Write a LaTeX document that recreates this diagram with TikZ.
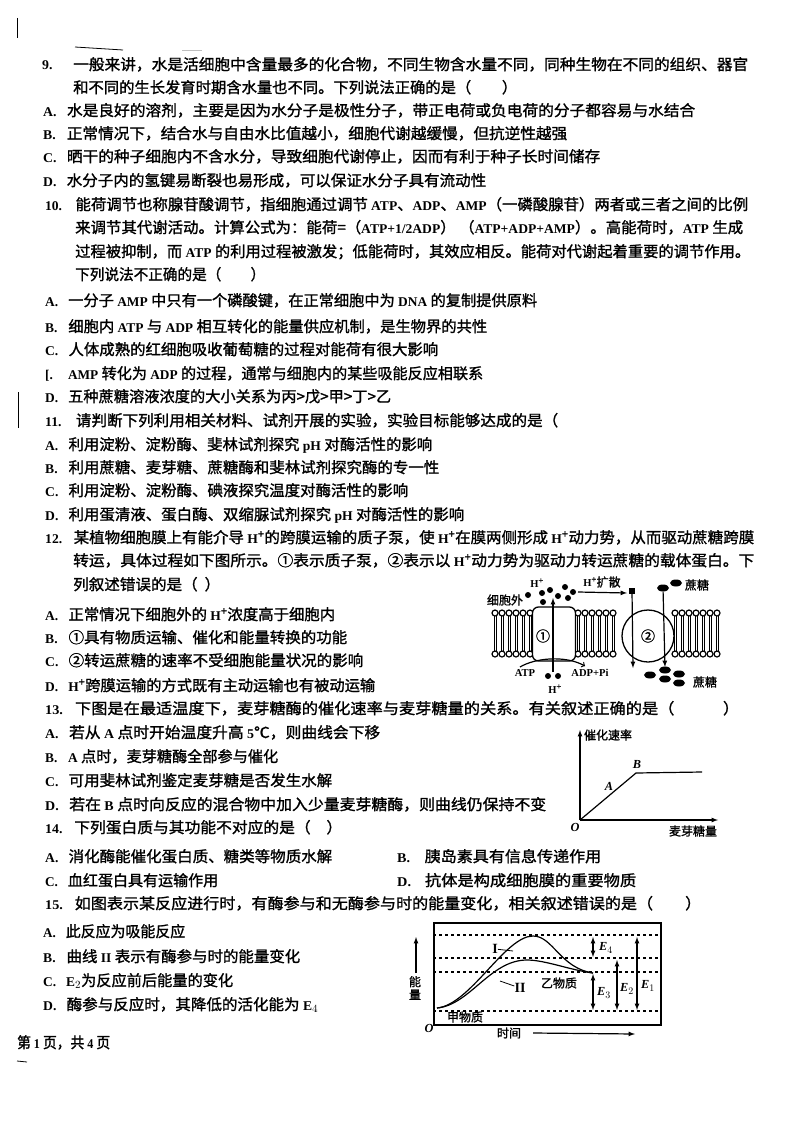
\documentclass[tikz,border=0pt]{standalone}
\usepackage{graphicx}
\usepackage{fontspec}
\setmainfont{Noto Sans CJK SC}[BoldFont={Noto Sans CJK SC},BoldFeatures={FakeBold=1.3}]
\newfontfamily\latinfont[Scale=0.88]{Liberation Serif}
\usetikzlibrary{arrows}
\usetikzlibrary{shapes.geometric}
\newcommand{\la}[1]{{\latinfont #1}}
\newcommand{\opt}[1]{\makebox[23pt][l]{\la{#1.}}}
\newcommand{\num}[1]{\makebox[30pt][l]{\la{#1.}}}
\newcommand{\Hp}{\la{H}\textsuperscript{+}}
\newcommand{\fit}[2]{\resizebox{#1pt}{\height}{#2}}
\tikzset{
  txt/.style={anchor=base west,inner sep=0pt,font=\fontsize{15.2}{17}\bfseries\selectfont},
  small/.style={inner sep=0pt,font=\fontsize{12}{13}\bfseries\selectfont},
  letter/.style={inner sep=0pt,font=\fontsize{14}{15}\selectfont\latinfont\bfseries\itshape},
  pt/.style={fill=black,ellipse,inner sep=0pt,minimum width=6pt,minimum height=6pt},
  sugar/.style={fill=black,ellipse,inner sep=0pt,minimum width=12pt,minimum height=7pt},
  level/.style={line width=1.1pt,dashed},
  axis/.style={line width=1.2pt,-latex},
  link/.style={line width=1.2pt}
}
\begin{document}
\begin{tikzpicture}[x=1pt,y=-1pt]
\useasboundingbox (0,0) rectangle (794,1124);
% question 9
\node[txt] (q9) at (42,70) {\fit{706}{\num{9}一般来讲，水是活细胞中含量最多的化合物，不同生物含水量不同，同种生物在不同的组织、器官}};
\node[txt] (q9l) at (73,93) {\fit{444}{和不同的生长发育时期含水量也不同。下列说法正确的是（\quad\quad ）}};
\node[txt] (q9a) at (43,116) {\fit{652}{\opt{A}水是良好的溶剂，主要是因为水分子是极性分子，带正电荷或负电荷的分子都容易与水结合}};
\node[txt] (q9b) at (43,139) {\fit{524}{\opt{B}正常情况下，结合水与自由水比值越小，细胞代谢越缓慢，但抗逆性越强}};
\node[txt] (q9c) at (43,162) {\fit{557}{\opt{C}晒干的种子细胞内不含水分，导致细胞代谢停止，因而有利于种子长时间储存}};
\node[txt] (q9d) at (43,186) {\fit{443}{\opt{D}水分子内的氢键易断裂也易形成，可以保证水分子具有流动性}};
% question 10
\node[txt] (q10) at (45,210) {\fit{703}{\num{10}能荷调节也称腺苷酸调节，指细胞通过调节\la{ ATP}、\la{ADP}、\la{AMP}（一磷酸腺苷）两者或三者之间的比例}};
\node[txt] (q10l) at (75,233) {\fit{668}{来调节其代谢活动。计算公式为：能荷=（\la{ATP+1/2ADP}）\ （\la{ATP+ADP+AMP}）。高能荷时，\la{ATP }生成}};
\node[txt] (q10m) at (75,257) {\fit{675}{过程被抑制，而\la{ ATP }的利用过程被激发；低能荷时，其效应相反。能荷对代谢起着重要的调节作用。}};
\node[txt] (q10n) at (75,280) {\fit{190}{下列说法不正确的是（\quad\quad ）}};
\node[txt] (q10a) at (45,306) {\fit{492}{\opt{A}一分子\la{ AMP }中只有一个磷酸键，在正常细胞中为\la{ DNA }的复制提供原料}};
\node[txt] (q10b) at (45,332) {\fit{442}{\opt{B}细胞内\la{ ATP }与\la{ ADP }相互转化的能量供应机制，是生物界的共性}};
\node[txt] (q10c) at (45,355) {\fit{393}{\opt{C}人体成熟的红细胞吸收葡萄糖的过程对能荷有很大影响}};
\node[txt] (q10d) at (45,379) {\fit{438}{\opt{[}\la{AMP }转化为\la{ ADP }的过程，通常与细胞内的某些吸能反应相联系}};
\node[txt] (q10e) at (45,402) {\fit{346}{\opt{D}五种蔗糖溶液浓度的大小关系为丙>戊>甲>丁>乙}};
% question 11
\node[txt] (q11) at (45,426) {\fit{513}{\num{11}请判断下列利用相关材料、试剂开展的实验，实验目标能够达成的是（}};
\node[txt] (q11a) at (45,450) {\fit{387}{\opt{A}利用淀粉、淀粉酶、斐林试剂探究\la{ pH }对酶活性的影响}};
\node[txt] (q11b) at (45,473) {\fit{394}{\opt{B}利用蔗糖、麦芽糖、蔗糖酶和斐林试剂探究酶的专一性}};
\node[txt] (q11c) at (45,496) {\fit{363}{\opt{C}利用淀粉、淀粉酶、碘液探究温度对酶活性的影响}};
\node[txt] (q11d) at (45,520) {\fit{419}{\opt{D}利用蛋清液、蛋白酶、双缩脲试剂探究\la{ pH }对酶活性的影响}};
% question 12
\node[txt] (q12) at (45,543) {\fit{709}{\makebox[28pt][l]{\la{12.}}某植物细胞膜上有能介导\la{ H}\textsuperscript{+}的跨膜运输的质子泵，使\la{ H}\textsuperscript{+}在膜两侧形成\la{ H}\textsuperscript{+}动力势，从而驱动蔗糖跨膜}};
\node[txt] (q12l) at (73,566) {\fit{681}{转运，具体过程如下图所示。①表示质子泵，②表示以\la{ H}\textsuperscript{+}动力势为驱动力转运蔗糖的载体蛋白。下}};
\node[txt] (q12m) at (73,590) {\fit{147}{列叙述错误的是（\ \ ）}};
\node[txt] (q12a) at (45,620) {\fit{290}{\opt{A}正常情况下细胞外的\la{ H}\textsuperscript{+}浓度高于细胞内}};
\node[txt] (q12b) at (45,643) {\fit{302}{\opt{B}①具有物质运输、催化和能量转换的功能}};
\node[txt] (q12c) at (45,666) {\fit{318}{\opt{C}②转运蔗糖的速率不受细胞能量状况的影响}};
\node[txt] (q12d) at (45,691) {\fit{330}{\opt{D}\Hp 跨膜运输的方式既有主动运输也有被动运输}};
% question 13
\node[txt] (q13) at (45,714) {\fit{694}{\makebox[28pt][l]{\la{13.}}下图是在最适温度下，麦芽糖酶的催化速率与麦芽糖量的关系。有关叙述正确的是（\quad\quad\quad ）}};
\node[txt] (q13a) at (45,738) {\fit{335}{\opt{A}若从\la{ A }点时开始温度升高\la{ 5}℃，则曲线会下移}};
\node[txt] (q13b) at (45,762) {\fit{233}{\opt{B}\la{A }点时，麦芽糖酶全部参与催化}};
\node[txt] (q13c) at (45,786) {\fit{287}{\opt{C}可用斐林试剂鉴定麦芽糖是否发生水解}};
\node[txt] (q13d) at (45,810) {\fit{501}{\opt{D}若在\la{ B }点时向反应的混合物中加入少量麦芽糖酶，则曲线仍保持不变}};
% question 14
\node[txt] (q14) at (45,833) {\fit{297}{\makebox[28pt][l]{\la{14.}}下列蛋白质与其功能不对应的是（\quad ）}};
\node[txt] (q14a) at (45,862) {\fit{287}{\opt{A}消化酶能催化蛋白质、糖类等物质水解}};
\node[txt] (q14b) at (397,862) {\fit{204}{\makebox[26pt][l]{\la{B.}}胰岛素具有信息传递作用}};
\node[txt] (q14c) at (45,886) {\fit{173}{\opt{C}血红蛋白具有运输作用}};
\node[txt] (q14d) at (397,886) {\fit{239}{\makebox[26pt][l]{\la{D.}}抗体是构成细胞膜的重要物质}};
% question 15
\node[txt] (q15) at (45,909) {\fit{656}{\makebox[28pt][l]{\la{15.}}如图表示某反应进行时，有酶参与和无酶参与时的能量变化，相关叙述错误的是（\quad\quad ）}};
\node[txt] (q15a) at (43,937) {\fit{142}{\opt{A}此反应为吸能反应}};
\node[txt] (q15b) at (43,962) {\fit{257}{\opt{B}曲线\la{ II }表示有酶参与时的能量变化}};
\node[txt] (q15c) at (43,986) {\fit{190}{\opt{C}\la{E}$_2$为反应前后能量的变化}};
\node[txt] (q15d) at (43,1010) {\fit{275}{\opt{D}酶参与反应时，其降低的活化能为\la{ E}$_4$}};
\node[txt] (foot) at (17,1048) {\fit{93}{第\la{ 1 }页，共\la{ 4 }页}};
% marks of the scan
\coordinate (m1) at (75,47); \coordinate (m2) at (123,50);
\draw[thick] (m1)--(m2);
\coordinate (m3) at (18,392); \coordinate (m4) at (18,428);
\draw[thick] (m3)--(m4);
\coordinate (m5) at (17,18); \coordinate (m6) at (17,38);
\draw (m5)--(m6);
\coordinate (m7) at (182,50); \coordinate (m8) at (202,50);
\draw[gray!50] (m7)--(m8);
\coordinate (m9) at (17,1061); \coordinate (m10) at (27,1062);
\draw[thick] (m9)--(m10);
% membrane
\foreach \xa/\xb in {495/532,578/618,675/718}{
  \foreach \x in {\xa,...,\xb}{
    \pgfmathsetmacro{\dx}{mod(\x-\xa,7)}
    \ifdim\dx pt=0pt
      \draw[line width=1.2pt] (\x,613) circle (3);
      \draw[line width=1.2pt] (\x,654) circle (3);
      \draw[line width=0.7pt] (\x-1,616)--(\x-1,651);
      \draw[line width=0.7pt] (\x+1,616)--(\x+1,651);
    \fi
  }
}
\node[draw,line width=1.3pt,fill=white,rounded corners=6pt,minimum width=43pt,minimum height=54pt,inner sep=0pt] (pump) at (554,634) {};
\node[font=\fontsize{14}{15}\bfseries\selectfont,inner sep=0pt] (pumpn) at (543,636) {①};
\node[draw,line width=1.3pt,fill=white,circle,minimum size=52pt,inner sep=0pt] (carrier) at (648,636) {};
\node[font=\fontsize{14}{15}\bfseries\selectfont,inner sep=0pt] (carriern) at (648,636) {②};
\node[small] (hin) at (537,583) {\Hp};
\node[small] (out) at (505,600) {细胞外};
\node[small] (spread) at (602,582) {\Hp 扩散};
\node[small] (sug1) at (697,585) {蔗糖};
\node[small] (sug2) at (705,682) {蔗糖};
\node[small] (atp) at (525,673) {\la{ATP}};
\node[small] (adp) at (590,673) {\la{ADP+Pi}};
\node[small] (hdown) at (555,689) {\Hp};
\foreach \n/\x/\y in {a/528/595,b/542/593,c/550/590,d/565/587,e/573/592,f/558/596,g/568/598,h/543/602,i/548/676,j/558/676}{
  \node[pt] (h\n) at (\x,\y) {};
}
\node[fill=black,inner sep=0pt,minimum size=6pt] (sq) at (632,591) {};
\node[sugar] (s1) at (663,588) {};
\node[sugar] (s2) at (676,583) {};
\node[sugar] (s3) at (650,675) {};
\node[sugar] (s4) at (665,670) {};
\node[sugar] (s5) at (665,679) {};
\node[sugar] (s6) at (679,674) {};
\node[sugar] (s7) at (679,683) {};
\coordinate (hup) at (553,672); \coordinate (htop) at (553,598);
\draw[link,-latex] (hup)--(htop);
\coordinate (sp1) at (578,592); \coordinate (sp2) at (627,593);
\draw[link,-latex] (sp1)--(sp2);
\coordinate (d2) at (633,668);
\draw[link,-latex] (sq)--(d2);
\coordinate (d3) at (665,667);
\draw[link,-latex] (s1)--(d3);
\coordinate (arcl) at (520,667); \coordinate (arcr) at (585,666);
\draw[link,->] (arcl) .. controls (535,658) and (565,655) .. (arcr);
% rate curve
\coordinate (o13) at (580,820); \coordinate (xend13) at (718,820); \coordinate (yend13) at (580,730);
\coordinate (a13) at (610,795); \coordinate (b13) at (636,773); \coordinate (end13) at (702,772);
\draw[axis] (o13)--(xend13);
\draw[axis] (o13)--(yend13);
\draw[link] (o13)--(b13)--(end13);
\node[small] (rate) at (608,735) {催化速率};
\node[small] (malt) at (693,831) {麦芽糖量};
\node[letter] (o13n) at (575,827) {O};
\node[letter] (a13n) at (609,786) {A};
\node[letter] (b13n) at (637,764) {B};
% energy curve
\node[draw,line width=1.3pt,minimum width=227pt,minimum height=102pt,inner sep=0pt] (frame) at (547.5,974) {};
\foreach \n/\y in {a/935,b/958,c/972,d/1011}{
  \coordinate (l\n) at (frame.west |- 0,\y); \coordinate (r\n) at (frame.east |- 0,\y);
  \draw[level] (l\n)--(r\n);
}
\coordinate (st) at (437,1008); \coordinate (p1) at (533,936); \coordinate (p2) at (527,960); \coordinate (en) at (593,973);
\draw[link] (st) .. controls (470,1005) and (505,936) .. (p1) .. controls (553,936) and (560,968) .. (en);
\draw[link] (st) .. controls (470,1005) and (490,960) .. (p2) .. controls (545,960) and (570,970) .. (en);
\coordinate (e4a) at (593,937); \coordinate (e4b) at (593,957);
\coordinate (e3a) at (593,974); \coordinate (e3b) at (593,1010);
\coordinate (e2a) at (617,960); \coordinate (e2b) at (617,1010);
\coordinate (e1a) at (637,937); \coordinate (e1b) at (637,1010);
\draw[link,latex-latex] (e4a)--(e4b);
\draw[link,latex-latex] (e3a)--(e3b);
\draw[link,latex-latex] (e2a)--(e2b);
\draw[link,latex-latex] (e1a)--(e1b);
\node[letter] (e4n) at (606,948) {E$_4$};
\node[letter] (e3n) at (604,993) {E$_3$};
\node[letter] (e2n) at (627,989) {E$_2$};
\node[letter] (e1n) at (648,986) {E$_1$};
\node[small,font=\fontsize{16}{16}\selectfont\latinfont\bfseries] (one) at (495,949) {I};
\node[small,font=\fontsize{16}{16}\selectfont\latinfont\bfseries] (two) at (520,988) {II};
\coordinate (one2) at (513,951); \coordinate (two1) at (500,981);
\draw[thick] (one)--(one2);
\draw[thick] (two)--(two1);
\node[small] (yi) at (559,983) {乙物质};
\node[small] (jia) at (465,1017) {甲物质};
\node[letter] (o15) at (429,1028) {O};
\node[small] (time) at (509,1033) {时间};
\coordinate (t2) at (635,1034);
\draw[link,-latex] (time.east)+(12,0)--(t2);
\node[small,align=center] (energy) at (415,988) {能\\量};
\coordinate (ya) at (416,973); \coordinate (yb) at (416,937);
\draw[link,-latex] (ya)--(yb);
\end{tikzpicture}
\end{document}
